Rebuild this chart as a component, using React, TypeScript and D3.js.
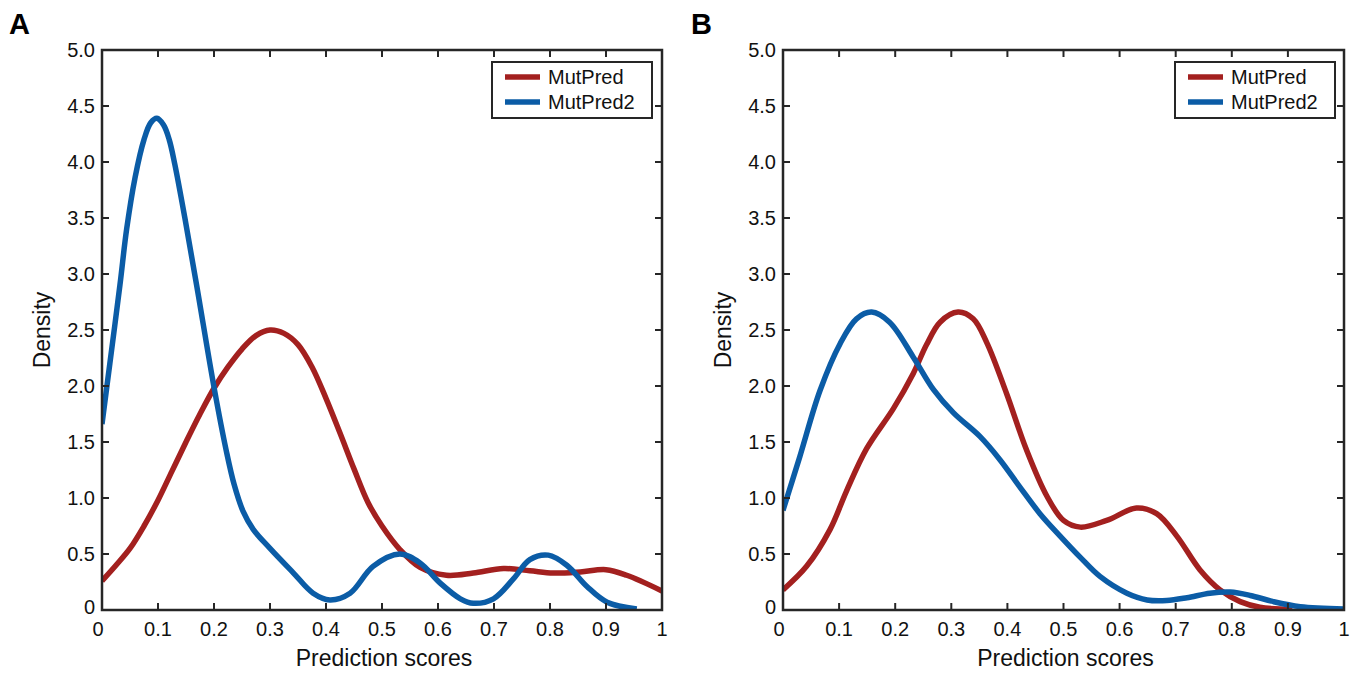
import React from "react";
import * as d3 from "d3";

// ---------- data ----------
const xTicks = [0, 0.1, 0.2, 0.3, 0.4, 0.5, 0.6, 0.7, 0.8, 0.9, 1];
const xTickLabels = ["0", "0.1", "0.2", "0.3", "0.4", "0.5", "0.6", "0.7", "0.8", "0.9", "1"];
const yTicks = [0, 0.5, 1, 1.5, 2, 2.5, 3, 3.5, 4, 4.5, 5];
const yTickLabels = ["0", "0.5", "1.0", "1.5", "2.0", "2.5", "3.0", "3.5", "4.0", "4.5", "5.0"];
const seriesNames = ["MutPred", "MutPred2"];
const panelLabels = ["A", "B"];

// Panel A
const aMutPredX = [0, 0.025, 0.05, 0.075, 0.1, 0.125, 0.15, 0.175, 0.2, 0.225, 0.25, 0.275, 0.3, 0.325, 0.35, 0.375, 0.4, 0.425, 0.45, 0.475, 0.5, 0.532, 0.568, 0.615, 0.663, 0.717, 0.764, 0.806, 0.854, 0.9, 0.937, 1.0];
const aMutPredY = [0.26, 0.4, 0.55, 0.75, 0.98, 1.24, 1.5, 1.75, 1.98, 2.17, 2.33, 2.45, 2.5, 2.47, 2.37, 2.17, 1.89, 1.58, 1.26, 0.96, 0.75, 0.54, 0.38, 0.31, 0.33, 0.37, 0.35, 0.33, 0.34, 0.36, 0.31, 0.17];
const aMutPred2X = [0, 0.014, 0.032, 0.044, 0.059, 0.075, 0.087, 0.098, 0.11, 0.12, 0.13, 0.148, 0.169, 0.2, 0.222, 0.236, 0.252, 0.27, 0.3, 0.342, 0.377, 0.407, 0.443, 0.484, 0.532, 0.568, 0.604, 0.64, 0.663, 0.699, 0.735, 0.764, 0.797, 0.83, 0.866, 0.902, 0.955];
const aMutPred2Y = [1.66, 2.2, 2.9, 3.4, 3.86, 4.2, 4.35, 4.39, 4.33, 4.2, 3.98, 3.5, 2.9, 1.99, 1.42, 1.12, 0.88, 0.72, 0.55, 0.33, 0.15, 0.09, 0.15, 0.39, 0.5, 0.42, 0.24, 0.1, 0.06, 0.1, 0.28, 0.45, 0.49, 0.4, 0.21, 0.07, 0.01];

// Panel B
const bMutPredX = [0, 0.042, 0.084, 0.113, 0.149, 0.197, 0.232, 0.256, 0.28, 0.312, 0.339, 0.363, 0.398, 0.434, 0.47, 0.5, 0.53, 0.577, 0.63, 0.666, 0.702, 0.743, 0.779, 0.815, 0.85, 0.908];
const bMutPredY = [0.18, 0.39, 0.72, 1.06, 1.44, 1.8, 2.11, 2.37, 2.57, 2.66, 2.6, 2.39, 1.94, 1.43, 1.02, 0.8, 0.74, 0.8, 0.91, 0.86, 0.66, 0.36, 0.18, 0.075, 0.025, 0.005];
const bMutPred2X = [0, 0.03, 0.066, 0.102, 0.131, 0.158, 0.19, 0.232, 0.268, 0.304, 0.351, 0.387, 0.422, 0.458, 0.494, 0.53, 0.565, 0.613, 0.649, 0.684, 0.72, 0.761, 0.797, 0.833, 0.874, 0.922, 1.0];
const bMutPred2Y = [0.89, 1.37, 1.96, 2.38, 2.6, 2.66, 2.57, 2.26, 1.97, 1.76, 1.55, 1.34, 1.1, 0.86, 0.66, 0.47, 0.3, 0.15, 0.09, 0.085, 0.11, 0.15, 0.16, 0.13, 0.075, 0.03, 0.01];

const panels = [
  { label: panelLabels[0], series: [[aMutPredX, aMutPredY], [aMutPred2X, aMutPred2Y]] },
  { label: panelLabels[1], series: [[bMutPredX, bMutPredY], [bMutPred2X, bMutPred2Y]] },
];

// ---------- styles ----------
const COLORS = ["#a3201f", "#0b5ca6"];
const AXIS = "#262626";
const FONT = "'Liberation Sans', Arial, Helvetica, sans-serif";

const layouts = [
  { x0: 102, x1: 662, y0: 50, y1: 610, labelX: 9, legX: 492 },
  { x0: 783, x1: 1344, y0: 50, y1: 610, labelX: 691, legX: 1175 },
];

function Panel({ p, L }: any) {
  const x = d3.scaleLinear().domain([0, 1]).range([L.x0, L.x1]);
  const y = d3.scaleLinear().domain([0, 5]).range([L.y1, L.y0]);
  const line = d3
    .line<number>()
    .x((d: any) => x(d[0]))
    .y((d: any) => y(d[1]))
    .curve(d3.curveCatmullRom.alpha(0.5));
  const tl = 7;
  const legW = 160;
  return (
    <g>
      <text x={L.labelX} y={34} fontFamily={FONT} fontWeight="bold" fontSize={29} fill="#000">
        {p.label}
      </text>
      <defs>
        <clipPath id={"clip" + p.label}>
          <rect x={L.x0} y={L.y0} width={L.x1 - L.x0} height={L.y1 - L.y0} />
        </clipPath>
      </defs>
      <g clipPath={`url(#clip${p.label})`}>
        {p.series.map((s: any, i: number) => {
          const pts = s[0].map((xv: number, k: number) => [xv, s[1][k]]);
          return (
            <path
              key={i}
              d={line(pts as any) || ""}
              fill="none"
              stroke={COLORS[i]}
              strokeWidth={5.5}
              strokeLinejoin="round"
              strokeLinecap="butt"
            />
          );
        })}
      </g>
      {xTicks.slice(1, -1).map((t) => (
        <g key={"xt" + t}>
          <line x1={x(t)} x2={x(t)} y1={L.y1} y2={L.y1 - tl} stroke={AXIS} strokeWidth={2} />
          <line x1={x(t)} x2={x(t)} y1={L.y0} y2={L.y0 + tl} stroke={AXIS} strokeWidth={2} />
        </g>
      ))}
      {yTicks.slice(1, -1).map((t) => (
        <g key={"yt" + t}>
          <line x1={L.x0} x2={L.x0 + tl} y1={y(t)} y2={y(t)} stroke={AXIS} strokeWidth={2} />
          <line x1={L.x1} x2={L.x1 - tl} y1={y(t)} y2={y(t)} stroke={AXIS} strokeWidth={2} />
        </g>
      ))}
      <rect
        x={L.x0}
        y={L.y0}
        width={L.x1 - L.x0}
        height={L.y1 - L.y0}
        fill="none"
        stroke={AXIS}
        strokeWidth={2.5}
      />
      {xTicks.map((t, i) => (
        <text
          key={"xl" + t}
          x={x(t) - (i === 0 ? 4 : 0)}
          y={L.y1 + 26}
          textAnchor="middle"
          fontFamily={FONT}
          fontSize={20}
          fill="#111"
        >
          {xTickLabels[i]}
        </text>
      ))}
      {yTicks.map((t, i) => (
        <text
          key={"yl" + t}
          x={L.x0 - 7}
          y={y(t) + (i === 0 ? 4 : 7)}
          textAnchor="end"
          fontFamily={FONT}
          fontSize={20}
          fill="#111"
        >
          {yTickLabels[i]}
        </text>
      ))}
      <text
        x={(L.x0 + L.x1) / 2 + 2}
        y={666}
        textAnchor="middle"
        fontFamily={FONT}
        fontSize={23}
        fill="#111"
      >
        Prediction scores
      </text>
      <text
        transform={`translate(${L.x0 - 52},${(L.y0 + L.y1) / 2}) rotate(-90)`}
        textAnchor="middle"
        fontFamily={FONT}
        fontSize={23}
        fill="#111"
      >
        Density
      </text>
      <rect x={L.legX} y={62} width={legW} height={56} fill="#fff" stroke={AXIS} strokeWidth={2} />
      {seriesNames.map((n, i) => (
        <g key={n}>
          <line
            x1={L.legX + 13}
            x2={L.legX + 48}
            y1={77 + i * 25}
            y2={77 + i * 25}
            stroke={COLORS[i]}
            strokeWidth={5.5}
          />
          <text x={L.legX + 56} y={84 + i * 25} fontFamily={FONT} fontSize={20} fill="#111">
            {n}
          </text>
        </g>
      ))}
    </g>
  );
}

export default function App() {
  return (
    <svg
      width={1365}
      height={675}
      style={{ position: "absolute", left: 0, top: 0, background: "#fff" }}
    >
      <rect width={1365} height={675} fill="#fff" />
      {panels.map((p, i) => (
        <Panel key={p.label} p={p} L={layouts[i]} />
      ))}
    </svg>
  );
}
